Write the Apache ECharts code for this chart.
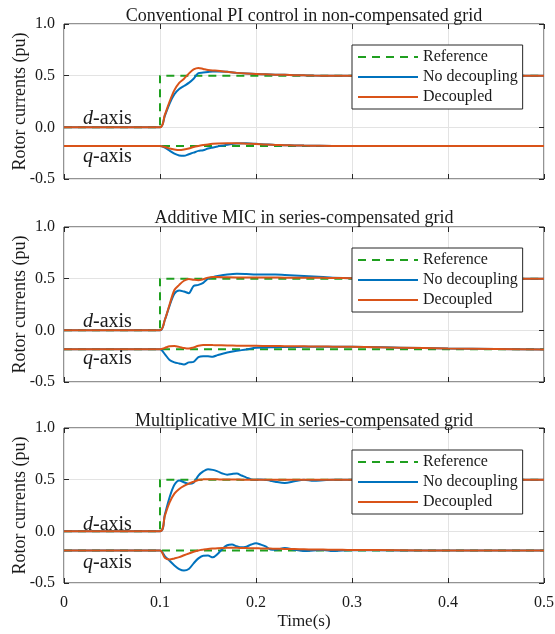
<!DOCTYPE html>
<html>
<head>
<meta charset="utf-8">
<script src="https://cdn.jsdelivr.net/npm/echarts@6/dist/echarts.min.js"></script>
<style>
html,body{margin:0;padding:0;background:#fff;}
#c{width:555px;height:634px;}
</style>
</head>
<body>
<div id="c"></div>
<script>
// ---------- Data ----------
const titles = [
  'Conventional PI control in non-compensated grid',
  'Additive MIC in series-compensated grid',
  'Multiplicative MIC in series-compensated grid'
];
const seriesNames = ['Reference', 'No decoupling', 'Decoupled'];
const yTicks = [-0.5, 0, 0.5, 1.0];
const xTicks = [0, 0.1, 0.2, 0.3, 0.4, 0.5];

// reference step (d) and constant (q)
const refDT = [0, 0.1, 0.1, 0.5];
const refDV = [0, 0, 0.5, 0.5];
const refQT = [0, 0.5];
const refQ1 = [-0.18, -0.18];
const refQ2 = [-0.183, -0.183];
const refQ3 = [-0.185, -0.185];

// Plot 1
const t1 = [0,0.1,0.105,0.11,0.115,0.12,0.125,0.13,0.135,0.14,0.145,0.15,0.155,0.16,0.17,0.18,0.19,0.2,0.21,0.22,0.23,0.24,0.25,0.26,0.28,0.3,0.35,0.4,0.45,0.5];
const d1NoDec = [0,0,0.11,0.23,0.32,0.37,0.40,0.43,0.47,0.525,0.53,0.535,0.54,0.54,0.537,0.527,0.52,0.515,0.513,0.51,0.508,0.505,0.503,0.501,0.5,0.5,0.5,0.5,0.5,0.5];
const d1Dec   = [0,0,0.12,0.25,0.36,0.43,0.47,0.52,0.56,0.575,0.565,0.555,0.55,0.548,0.537,0.527,0.52,0.515,0.513,0.51,0.508,0.505,0.503,0.501,0.5,0.5,0.5,0.5,0.5,0.5];
const q1NoDec = [-0.18,-0.18,-0.195,-0.225,-0.255,-0.272,-0.276,-0.26,-0.245,-0.228,-0.222,-0.205,-0.195,-0.185,-0.168,-0.156,-0.155,-0.16,-0.165,-0.17,-0.173,-0.175,-0.177,-0.178,-0.18,-0.18,-0.18,-0.18,-0.18,-0.18];
const q1Dec   = [-0.18,-0.18,-0.19,-0.205,-0.215,-0.22,-0.215,-0.205,-0.19,-0.18,-0.172,-0.165,-0.16,-0.157,-0.155,-0.155,-0.158,-0.162,-0.167,-0.17,-0.173,-0.175,-0.177,-0.178,-0.18,-0.18,-0.18,-0.18,-0.18,-0.18];

// Plot 2
const t2 = [0,0.1,0.105,0.11,0.115,0.12,0.125,0.13,0.135,0.14,0.145,0.15,0.155,0.16,0.17,0.18,0.19,0.2,0.21,0.22,0.23,0.24,0.25,0.26,0.27,0.28,0.3,0.35,0.4,0.45,0.5];
const d2NoDec = [0,0,0.1,0.24,0.355,0.385,0.375,0.36,0.43,0.44,0.46,0.5,0.515,0.525,0.54,0.548,0.545,0.54,0.54,0.54,0.535,0.53,0.525,0.52,0.515,0.51,0.505,0.5,0.5,0.5,0.5];
const d2Dec   = [0,0,0.1,0.25,0.39,0.44,0.48,0.497,0.49,0.485,0.495,0.51,0.515,0.515,0.513,0.512,0.512,0.512,0.512,0.511,0.51,0.51,0.51,0.509,0.508,0.507,0.505,0.502,0.5,0.5,0.5];
const q2NoDec = [-0.183,-0.183,-0.23,-0.287,-0.31,-0.32,-0.33,-0.31,-0.305,-0.26,-0.25,-0.252,-0.255,-0.24,-0.215,-0.198,-0.185,-0.168,-0.165,-0.163,-0.162,-0.161,-0.16,-0.16,-0.16,-0.16,-0.16,-0.168,-0.175,-0.18,-0.185];
const q2Dec   = [-0.183,-0.183,-0.17,-0.155,-0.152,-0.16,-0.172,-0.177,-0.165,-0.15,-0.142,-0.142,-0.143,-0.144,-0.147,-0.148,-0.15,-0.15,-0.151,-0.152,-0.153,-0.154,-0.155,-0.156,-0.157,-0.158,-0.16,-0.168,-0.175,-0.18,-0.185];

// Plot 3
const t3 = [0,0.1,0.105,0.11,0.115,0.12,0.125,0.13,0.135,0.14,0.145,0.15,0.155,0.16,0.165,0.17,0.175,0.18,0.185,0.19,0.195,0.2,0.205,0.21,0.215,0.22,0.23,0.24,0.25,0.26,0.27,0.28,0.29,0.3,0.35,0.4,0.45,0.5];
const d3NoDec = [0,0,0.16,0.33,0.45,0.493,0.475,0.46,0.47,0.54,0.58,0.602,0.595,0.58,0.56,0.548,0.555,0.56,0.54,0.52,0.503,0.5,0.502,0.5,0.49,0.48,0.468,0.485,0.5,0.49,0.495,0.5,0.5,0.5,0.5,0.5,0.5,0.5];
const d3Dec   = [0,0,0.15,0.28,0.365,0.41,0.44,0.462,0.48,0.497,0.503,0.505,0.504,0.503,0.502,0.502,0.501,0.501,0.5,0.5,0.5,0.5,0.5,0.5,0.5,0.5,0.5,0.5,0.5,0.5,0.5,0.5,0.5,0.5,0.5,0.5,0.5,0.5];
const q3NoDec = [-0.185,-0.185,-0.24,-0.284,-0.33,-0.365,-0.38,-0.365,-0.31,-0.262,-0.236,-0.235,-0.252,-0.22,-0.17,-0.135,-0.128,-0.145,-0.155,-0.148,-0.128,-0.116,-0.128,-0.145,-0.175,-0.178,-0.162,-0.178,-0.19,-0.185,-0.18,-0.19,-0.185,-0.183,-0.185,-0.185,-0.185,-0.185];
const q3Dec   = [-0.185,-0.185,-0.255,-0.272,-0.262,-0.25,-0.232,-0.215,-0.198,-0.185,-0.177,-0.17,-0.166,-0.163,-0.161,-0.16,-0.16,-0.16,-0.161,-0.162,-0.163,-0.164,-0.165,-0.166,-0.167,-0.168,-0.17,-0.172,-0.174,-0.176,-0.177,-0.178,-0.179,-0.18,-0.183,-0.185,-0.185,-0.185];

// ---------- Build ----------
const SERIF = '"Liberation Serif","Times New Roman",serif';
const TXT = '#1a1a1a';
const GREEN = '#1f9f1f', BLUE = '#0072BD', ORANGE = '#D95319';
const zip = (t, v) => t.map((x, i) => [x, v[i]]);

const plots = [
  {t: t1, dN: d1NoDec, dD: d1Dec, qN: q1NoDec, qD: q1Dec, rq: refQ1},
  {t: t2, dN: d2NoDec, dD: d2Dec, qN: q2NoDec, qD: q2Dec, rq: refQ2},
  {t: t3, dN: d3NoDec, dD: d3Dec, qN: q3NoDec, qD: q3Dec, rq: refQ3}
];
const gridTops = [24, 227, 428];
const gridH = 155;
const legendTops = [45, 248, 450];
const titleTops = [2, 204, 407];
const dLabelY = [118, 321, 524];
const qLabelY = [156, 358, 562];

const grid = [], xAxis = [], yAxis = [], series = [], legend = [], title = [], graphic = [];
const tickStyle = {show: true, inside: true, length: 5, lineStyle: {color: '#262626'}};

plots.forEach((p, g) => {
  grid.push({left: 64, right: 11, top: gridTops[g], height: gridH, show: true,
    outerBoundsMode: 'none', containLabel: false,
    borderColor: '#262626', borderWidth: 1, backgroundColor: 'transparent'});
  const isLast = g === 2;
  // bottom x axis
  xAxis.push({type: 'value', gridIndex: g, position: 'bottom', min: 0, max: 0.5, interval: 0.1,
    axisLine: {show: false, onZero: false},
    axisTick: tickStyle,
    axisLabel: {show: isLast, color: TXT, fontFamily: SERIF, fontSize: 16, margin: 12,
      formatter: v => (v === 0 ? '0' : (+v.toFixed(1)).toString())},
    splitLine: {show: true, lineStyle: {color: '#e3e3e3', width: 1}},
    name: isLast ? 'Time(s)' : '', nameLocation: 'middle', nameGap: 30, nameMoveOverlap: false,
    nameTextStyle: {color: TXT, fontFamily: SERIF, fontSize: 17}
  });
  // top x axis (ticks only)
  xAxis.push({type: 'value', gridIndex: g, position: 'top', min: 0, max: 0.5, interval: 0.1,
    axisLine: {show: false, onZero: false}, axisLabel: {show: false}, splitLine: {show: false},
    axisTick: tickStyle});
  // left y axis
  yAxis.push({type: 'value', gridIndex: g, position: 'left', min: -0.5, max: 1.0, interval: 0.5,
    axisLine: {show: false, onZero: false},
    axisTick: tickStyle,
    axisLabel: {color: TXT, fontFamily: SERIF, fontSize: 16, margin: 9,
      formatter: v => v.toFixed(1)},
    splitLine: {show: true, lineStyle: {color: '#e3e3e3', width: 1}},
    name: 'Rotor currents (pu)', nameLocation: 'middle', nameGap: 35, nameMoveOverlap: false,
    nameTextStyle: {color: TXT, fontFamily: SERIF, fontSize: 18}
  });
  // right y axis (ticks only)
  yAxis.push({type: 'value', gridIndex: g, position: 'right', min: -0.5, max: 1.0, interval: 0.5,
    axisLine: {show: false, onZero: false}, axisLabel: {show: false}, splitLine: {show: false},
    axisTick: tickStyle});

  const xi = g * 2, yi = g * 2;
  const base = {type: 'line', xAxisIndex: xi, yAxisIndex: yi, symbol: 'none', animation: false, z: 3};
  series.push(Object.assign({}, base, {name: seriesNames[0], data: zip(refDT, refDV),
    lineStyle: {color: GREEN, width: 2, type: [8, 6]}, itemStyle: {color: GREEN}}));
  series.push(Object.assign({}, base, {name: seriesNames[0], data: zip(refQT, p.rq),
    lineStyle: {color: GREEN, width: 2, type: [8, 6]}, itemStyle: {color: GREEN}}));
  series.push(Object.assign({}, base, {name: seriesNames[1], data: zip(p.t, p.dN), smooth: 0.3,
    lineStyle: {color: BLUE, width: 2}, itemStyle: {color: BLUE}}));
  series.push(Object.assign({}, base, {name: seriesNames[1], data: zip(p.t, p.qN), smooth: 0.3,
    lineStyle: {color: BLUE, width: 2}, itemStyle: {color: BLUE}}));
  series.push(Object.assign({}, base, {name: seriesNames[2], data: zip(p.t, p.dD), smooth: 0.3,
    lineStyle: {color: ORANGE, width: 2}, itemStyle: {color: ORANGE}}));
  series.push(Object.assign({}, base, {name: seriesNames[2], data: zip(p.t, p.qD), smooth: 0.3,
    lineStyle: {color: ORANGE, width: 2}, itemStyle: {color: ORANGE}}));

  legend.push({data: seriesNames, orient: 'vertical', left: 352, top: legendTops[g],
    itemWidth: 60, itemHeight: 14, itemGap: 4, padding: [4, 5, 4, 5],
    borderColor: '#262626', borderWidth: 1, backgroundColor: '#fff', borderRadius: 0,
    selectedMode: false,
    itemStyle: {opacity: 0, color: 'transparent', borderWidth: 0},
    textStyle: {color: TXT, fontFamily: SERIF, fontSize: 16}});

  title.push({text: titles[g], left: 299, top: titleTops[g], textAlign: 'center',
    textStyle: {color: TXT, fontFamily: SERIF, fontSize: 18, fontWeight: 'normal'}});

  const rich = {
    i: {fontFamily: SERIF, fontStyle: 'italic', fontSize: 20, fill: TXT, color: TXT},
    n: {fontFamily: SERIF, fontSize: 20, fill: TXT, color: TXT}
  };
  graphic.push({type: 'text', left: 83, top: dLabelY[g] - 9, z: 10,
    style: {text: '{i|d}{n|-axis}', rich: rich, fill: TXT}});
  graphic.push({type: 'text', left: 83, top: qLabelY[g] - 9, z: 10,
    style: {text: '{i|q}{n|-axis}', rich: rich, fill: TXT}});
});

const chart = echarts.init(document.getElementById('c'), null, {renderer: 'canvas'});
chart.setOption({
  backgroundColor: '#fff',
  animation: false,
  title, grid, xAxis, yAxis, legend, series, graphic
});
</script>
</body>
</html>
